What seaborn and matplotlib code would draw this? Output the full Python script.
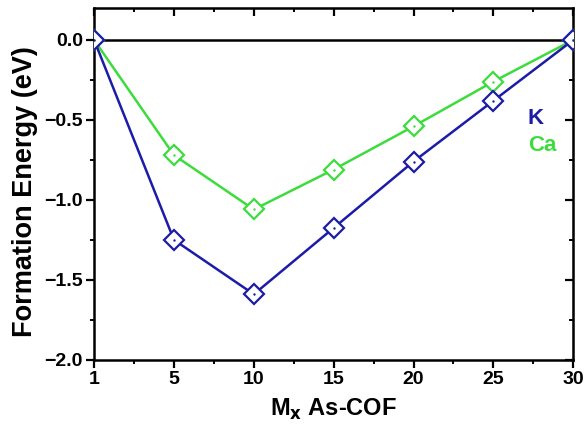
import numpy as np
import pandas as pd
import matplotlib
matplotlib.use("Agg")
import matplotlib.pyplot as plt
import seaborn as sns
from matplotlib.ticker import AutoMinorLocator, MultipleLocator, FixedLocator

# ---------------------------------------------------------------
# data
# ---------------------------------------------------------------
x_labels = ["1", "5", "10", "15", "20", "25", "30"]
k_energy = [0.0, -1.25, -1.59, -1.175, -0.76, -0.38, 0.0]
ca_energy = [0.0, -0.72, -1.06, -0.81, -0.54, -0.26, 0.0]

blue = "#1c1ca8"
green = "#3ddc3d"

sns.set_style("ticks")
plt.rcParams["font.family"] = ["Liberation Sans", "DejaVu Sans"]
plt.rcParams["font.weight"] = "bold"
for key in ["text.color", "axes.labelcolor", "xtick.color", "ytick.color", "axes.edgecolor"]:
    plt.rcParams[key] = "black"

df = pd.DataFrame({
    "x": x_labels * 2,
    "E": k_energy + ca_energy,
    "metal": ["K"] * 7 + ["Ca"] * 7,
})

fig, ax = plt.subplots(figsize=(5.88, 4.41), dpi=100)
fig.subplots_adjust(left=0.16, right=0.975, top=0.982, bottom=0.184)

ax.axhline(0, color="black", lw=1.8, zorder=1)

# draw Ca first so that K sits on top at the shared end points
for name, col in [("Ca", green), ("K", blue)]:
    sub = df[df["metal"] == name]
    sns.lineplot(data=sub, x="x", y="E", sort=False, ax=ax, color=col, lw=1.8,
                 marker="D", markersize=10, markerfacecolor="white",
                 markeredgecolor=col, markeredgewidth=1.6, zorder=3)
    sns.scatterplot(data=sub, x="x", y="E", ax=ax, color=col, s=3,
                    linewidth=0, zorder=4)

ax.set_xlim(0, 6)
ax.set_ylim(-2.0, 0.2)
ax.yaxis.set_major_locator(MultipleLocator(0.5))
ax.yaxis.set_minor_locator(AutoMinorLocator(2))
ax.xaxis.set_minor_locator(FixedLocator(np.arange(0.5, 6, 1.0)))

ax.set_xlabel(r"M$_\mathbf{x}$ As-COF", fontsize=17, fontweight="bold", labelpad=6)
ax.set_ylabel("Formation Energy (eV)", fontsize=19.5, fontweight="bold")
ax.yaxis.set_label_coords(-0.117, 0.477)

ax.tick_params(which="major", direction="out", length=6, width=1.6,
               labelsize=14, pad=2)
ax.tick_params(which="minor", direction="out", length=3, width=1.4)
for lab in ax.get_xticklabels() + ax.get_yticklabels():
    lab.set_fontweight("bold")

for s in ax.spines.values():
    s.set_linewidth(1.8)
    s.set_visible(True)

# mirrored inward ticks on top and right
top = ax.secondary_xaxis("top")
top.set_xticks(range(7))
top.xaxis.set_minor_locator(FixedLocator(np.arange(0.5, 6, 1.0)))
top.tick_params(which="major", direction="in", length=6, width=1.6, labeltop=False)
top.tick_params(which="minor", direction="in", length=3, width=1.4)
right = ax.secondary_yaxis("right")
right.yaxis.set_major_locator(MultipleLocator(0.5))
right.yaxis.set_minor_locator(AutoMinorLocator(2))
right.tick_params(which="major", direction="in", length=6, width=1.6, labelright=False)
right.tick_params(which="minor", direction="in", length=3, width=1.4)

ax.text(0.905, 0.685, "K", transform=ax.transAxes, color=blue,
        fontsize=16, fontweight="bold", va="center", ha="left")
ax.text(0.905, 0.61, "Ca", transform=ax.transAxes, color=green,
        fontsize=16, fontweight="bold", va="center", ha="left")

fig.savefig("out.png", dpi=100)
